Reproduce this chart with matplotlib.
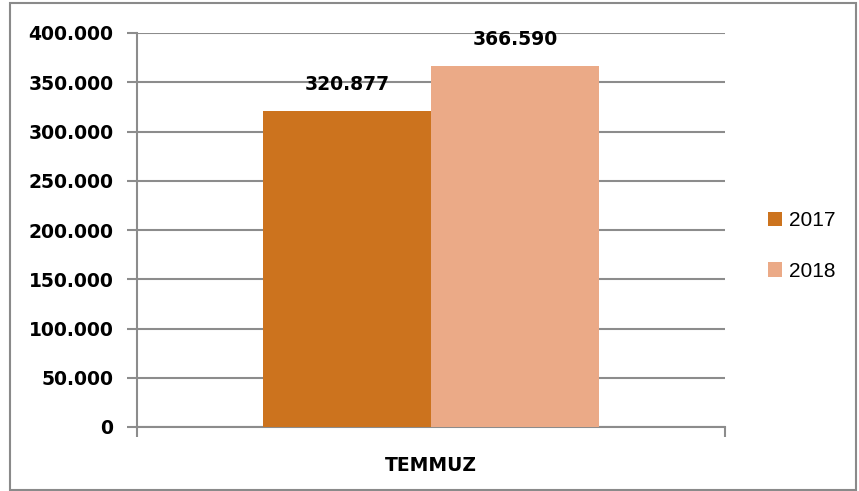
import numpy as np
import matplotlib.pyplot as plt
from matplotlib.patches import Rectangle
from matplotlib.ticker import FuncFormatter

categories = ['TEMMUZ']
years = ['2017', '2018']
values_2017 = [320877]
values_2018 = [366590]
colors = ['#CC731E', '#EBAA87']

def dotfmt(v, pos=None):
    return f'{int(round(v)):,}'.replace(',', '.')

fig = plt.figure(figsize=(8.59, 4.91), dpi=100)
ax = fig.add_axes([137/859, 1-427/491, (725-137)/859, (427-33)/491])

# outer chart border
fig.patches.append(Rectangle((10/859, 1-490/491), 846/859, 487/491, transform=fig.transFigure,
                             fill=False, edgecolor='#8a8a8a', linewidth=1.5))

x = np.arange(len(categories))
w = 0.286
b1 = ax.bar(x - w/2, values_2017, w, color=colors[0], label=years[0], zorder=3)
b2 = ax.bar(x + w/2, values_2018, w, color=colors[1], label=years[1], zorder=3)

for bars in (b1, b2):
    for r in bars:
        ax.annotate(dotfmt(r.get_height()), (r.get_x() + r.get_width()/2, r.get_height()),
                    xytext=(0, 12), textcoords='offset points', ha='center', va='bottom',
                    fontsize=13.5, fontweight='bold', family='DejaVu Sans')

ax.set_xlim(-0.5, 0.5)
ax.set_ylim(0, 400000)
ax.set_yticks(np.arange(0, 400001, 50000))
ax.yaxis.set_major_formatter(FuncFormatter(dotfmt))
ax.grid(axis='y', color='#8c8c8c', linewidth=1.5, zorder=0)
ax.set_axisbelow(True)

ax.set_xticks(x)
ax.set_xticklabels(categories, fontsize=13.5, fontweight='bold', family='DejaVu Sans Condensed')
ax.set_xticks([-0.5, 0.5], minor=True)
ax.tick_params(axis='x', which='major', length=0, pad=21)
ax.tick_params(axis='x', which='minor', length=7, width=1.5, color='#8c8c8c')
ax.tick_params(axis='y', length=7, width=1.5, color='#8c8c8c', pad=10)
for lbl in ax.get_yticklabels():
    lbl.set_fontsize(13.5)
    lbl.set_fontweight('bold')
    lbl.set_family('DejaVu Sans')

for s in ['top', 'right']:
    ax.spines[s].set_visible(False)
for s in ['left', 'bottom']:
    ax.spines[s].set_color('#8c8c8c')
    ax.spines[s].set_linewidth(1.5)

leg = fig.legend(loc='center left', bbox_to_anchor=(749/859, 1-246/491), frameon=False,
                 handlelength=0.7, handleheight=0.7, handletextpad=0.3,
                 labelspacing=1.5, prop={'family': 'Liberation Sans', 'size': 15})

fig.savefig('out.png', dpi=100)
